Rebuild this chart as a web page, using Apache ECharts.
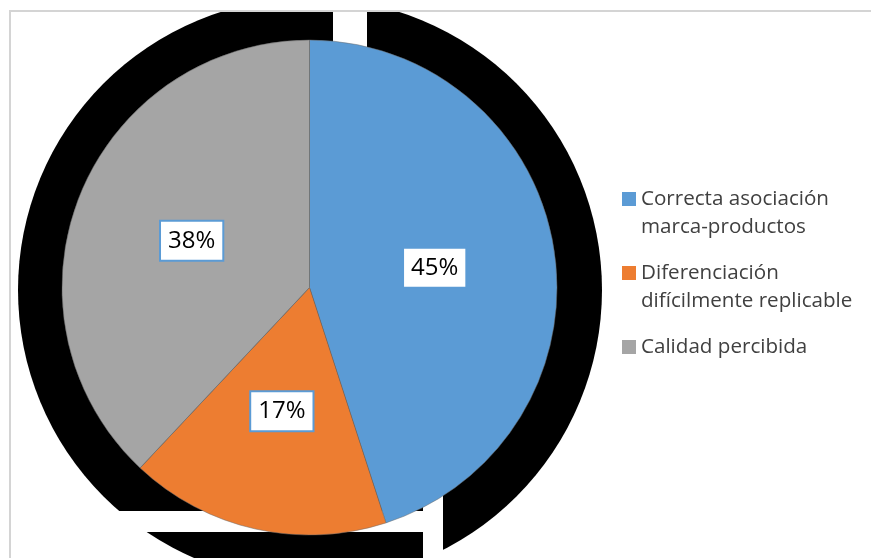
<!DOCTYPE html>
<html>
<head>
<meta charset="utf-8">
<script src="https://cdn.jsdelivr.net/npm/echarts@6/dist/echarts.min.js"></script>
<style>
  html, body { margin: 0; padding: 0; background: #ffffff; }
  #chart { width: 871px; height: 558px; }
</style>
</head>
<body>
<div id="chart"></div>
<script>
// Categories, their shares (percent) and legend line breaks
const categories = [
  'Correcta asociación marca-productos',
  'Diferenciación difícilmente replicable',
  'Calidad percibida'
];
const legendLines = [
  ['Correcta asociación', 'marca-productos'],
  ['Diferenciación', 'difícilmente replicable'],
  ['Calidad percibida']
];
const shares = [45, 17, 38];
const colors = ['#5B9BD5', '#ED7D31', '#A5A5A5'];

// Pie geometry
const PIE_CX = 309.5, PIE_CY = 287.5, PIE_R = 247.5;
// Dark backdrop disc behind the pie
const SHADOW_CX = PIE_CX + 0.5, SHADOW_CY = PIE_CY + 2.5, SHADOW_R = 292;
const FRAME_X = 10, FRAME_Y = 11;
const FONT = "'Open Sans', sans-serif";

const chart = echarts.init(document.getElementById('chart'), null, { renderer: 'canvas' });

// Each legend entry is laid out as three lines so that the marker sits on its first text line
function legendText(name) {
  const i = categories.indexOf(name);
  const lines = [''].concat(legendLines[i]);
  while (lines.length < 3) lines.push('');
  return lines.join('\n');
}

const option = {
  backgroundColor: '#ffffff',
  animation: false,
  graphic: [
    { type: 'circle', z: 0, shape: { cx: SHADOW_CX, cy: SHADOW_CY, r: SHADOW_R }, style: { fill: '#000000' } },
    // gaps in the backdrop
    { type: 'rect', z: 0, shape: { x: 0, y: 0, width: 871, height: FRAME_Y + 1 }, style: { fill: '#ffffff' } },
    { type: 'rect', z: 0, shape: { x: 333, y: FRAME_Y + 1, width: 34, height: 50 }, style: { fill: '#ffffff' } },
    { type: 'rect', z: 0, shape: { x: 0, y: 511, width: 423, height: 21 }, style: { fill: '#ffffff' } },
    { type: 'rect', z: 0, shape: { x: 423, y: 480, width: 20, height: 80 }, style: { fill: '#ffffff' } },
    // plot frame
    { type: 'rect', z: 0, shape: { x: FRAME_X, y: FRAME_Y, width: 900, height: 600 },
      style: { fill: 'none', stroke: '#d4d4d4', lineWidth: 2 } }
  ],
  legend: {
    orient: 'vertical',
    left: 622,
    top: 157,
    padding: 0,
    itemGap: -10,
    itemWidth: 14,
    itemHeight: 14,
    icon: 'rect',
    itemStyle: { borderWidth: 0 },
    data: categories,
    formatter: legendText,
    textStyle: {
      fontFamily: FONT,
      fontSize: 20.6,
      lineHeight: 28,
      color: '#404040'
    }
  },
  series: [{
    type: 'pie',
    center: [PIE_CX, PIE_CY],
    radius: PIE_R,
    startAngle: 90,
    clockwise: true,
    avoidLabelOverlap: false,
    silent: true,
    itemStyle: { borderColor: '#6a6a6a', borderWidth: 0.5 },
    label: {
      show: true,
      position: 'inside',
      formatter: p => p.value + '%',
      fontFamily: FONT,
      fontSize: 24,
      lineHeight: 26,
      color: '#000000',
      backgroundColor: '#ffffff',
      borderColor: '#5B9BD5',
      borderWidth: 2,
      padding: [6, 7, 6, 7]
    },
    labelLine: { show: false },
    data: categories.map((name, i) => ({
      name: name,
      value: shares[i],
      itemStyle: { color: colors[i] }
    }))
  }]
};

chart.setOption(option);
</script>
</body>
</html>
